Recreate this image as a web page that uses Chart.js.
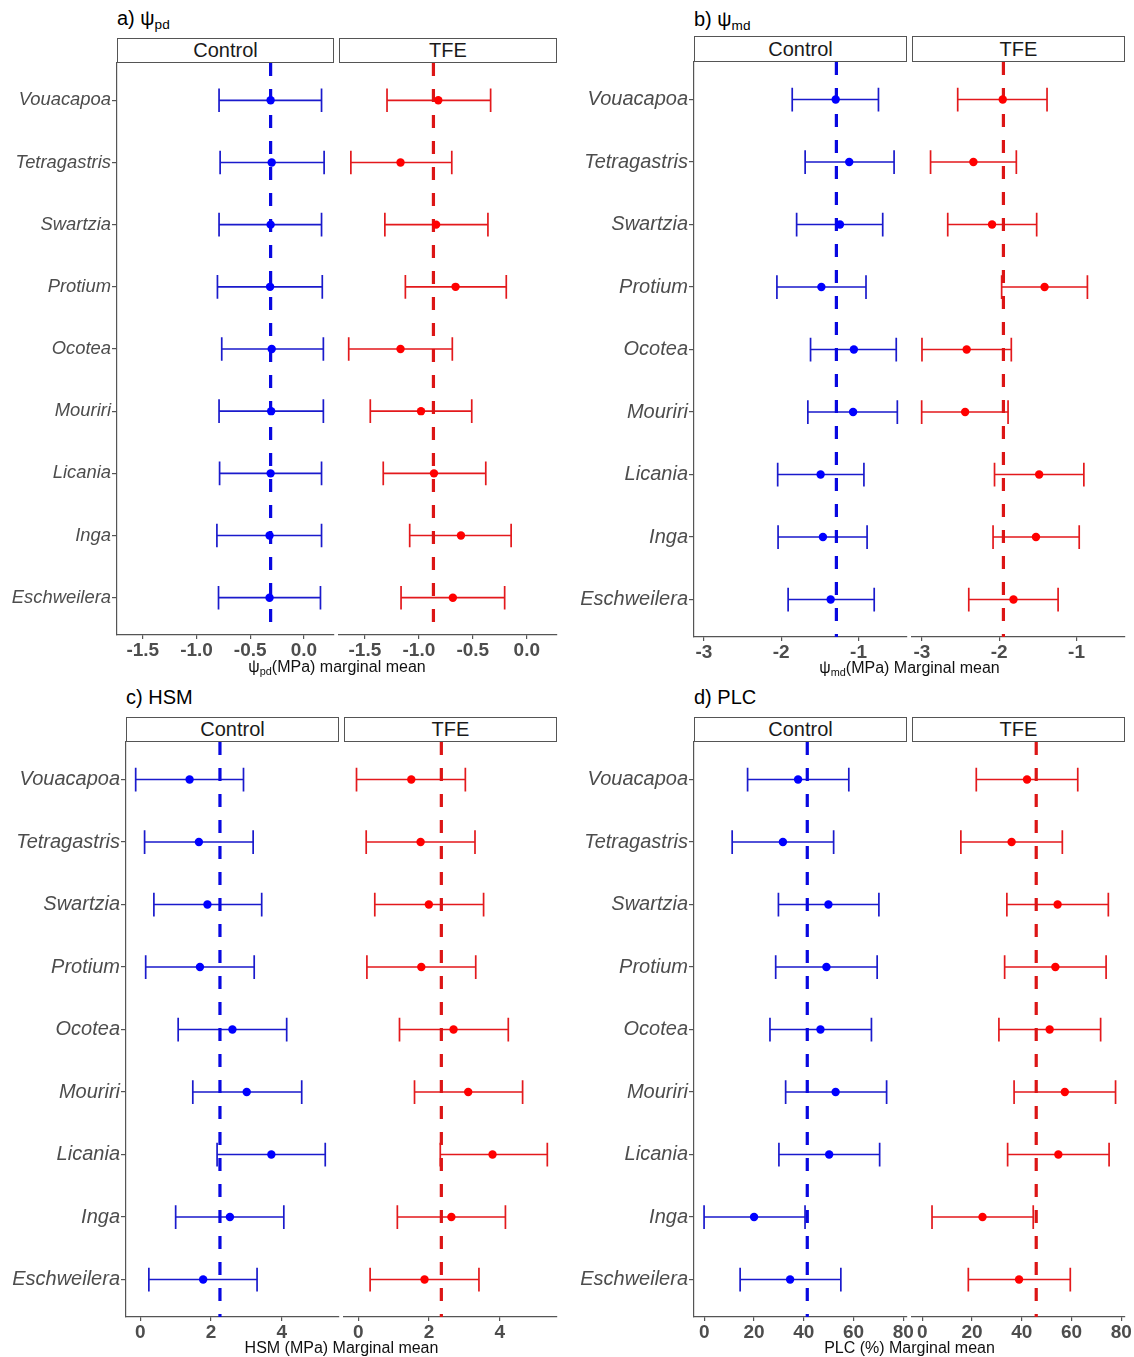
<!DOCTYPE html>
<html lang="en">
<head>
<meta charset="UTF-8">
<title>Marginal means by species</title>
<script src="https://cdn.jsdelivr.net/npm/chart.js"></script>
<style>
  body { margin: 0; background: #fff; font-family: 'Liberation Sans', Arial, sans-serif; }
  #page { position: relative; width: 1134px; height: 1357px; overflow: hidden; background: #fff; }
  #page canvas { position: absolute; }
  .strip { position: absolute; box-sizing: border-box; border: 1px solid #555; background: #fff;
           text-align: center; font-size: 20px; color: #1a1a1a; }
  .title { position: absolute; font-size: 20px; color: #000; white-space: nowrap; transform: translateY(-50%); }
  .xtitle { position: absolute; font-size: 16px; color: #111; white-space: nowrap; transform: translate(-50%, -50%); }
  sub { font-size: 68%; vertical-align: -0.3em; line-height: 0; }
</style>
</head>
<body>
<div id="page"></div>

<script>
// species, top to bottom
const species = ['Vouacapoa', 'Tetragastris', 'Swartzia', 'Protium', 'Ocotea', 'Mouriri', 'Licania', 'Inga', 'Eschweilera'];

// a) psi pd
const pdCtrlMean = [-0.31, -0.30, -0.31, -0.315, -0.30, -0.305, -0.31, -0.32, -0.32];
const pdCtrlLow  = [-0.79, -0.78, -0.79, -0.805, -0.765, -0.79, -0.785, -0.81, -0.795];
const pdCtrlHigh = [0.164, 0.188, 0.164, 0.171, 0.181, 0.181, 0.164, 0.164, 0.154];
const pdTfeMean  = [-0.82, -1.17, -0.84, -0.66, -1.17, -0.98, -0.86, -0.61, -0.685];
const pdTfeLow   = [-1.295, -1.63, -1.315, -1.125, -1.65, -1.45, -1.33, -1.085, -1.165];
const pdTfeHigh  = [-0.335, -0.695, -0.36, -0.19, -0.69, -0.51, -0.38, -0.145, -0.205];
const pdRef = [-0.31, -0.865];
const pdTicks = [-1.5, -1.0, -0.5, 0.0];

// b) psi md
const mdCtrlMean = [-1.295, -1.12, -1.24, -1.48, -1.06, -1.07, -1.49, -1.46, -1.36];
const mdCtrlLow  = [-1.857, -1.69, -1.80, -2.055, -1.62, -1.655, -2.045, -2.04, -1.91];
const mdCtrlHigh = [-0.742, -0.54, -0.687, -0.903, -0.512, -0.498, -0.93, -0.889, -0.797];
const mdTfeMean  = [-1.954, -2.333, -2.092, -1.413, -2.42, -2.44, -1.483, -1.524, -1.815];
const mdTfeLow   = [-2.536, -2.887, -2.665, -1.968, -2.998, -3.002, -2.06, -2.079, -2.393];
const mdTfeHigh  = [-1.381, -1.778, -1.515, -0.859, -1.843, -1.885, -0.905, -0.965, -1.238];
const mdRef = [-1.286, -1.945];
const mdTicks = [-3, -2, -1];

// c) HSM
const hsmCtrlMean = [1.394, 1.657, 1.899, 1.687, 2.606, 3.01, 3.707, 2.535, 1.778];
const hsmCtrlLow  = [-0.131, 0.121, 0.384, 0.152, 1.071, 1.485, 2.172, 1.0, 0.242];
const hsmCtrlHigh = [2.919, 3.192, 3.434, 3.222, 4.141, 4.566, 5.232, 4.06, 3.303];
const hsmTfeMean  = [1.499, 1.762, 1.995, 1.782, 2.694, 3.109, 3.797, 2.633, 1.873];
const hsmTfeLow   = [-0.051, 0.223, 0.466, 0.243, 1.165, 1.59, 2.319, 1.104, 0.334];
const hsmTfeHigh  = [3.028, 3.301, 3.544, 3.322, 4.243, 4.648, 5.347, 4.162, 3.413];
const hsmRef = [2.253, 2.349];
const hsmTicks = [0, 2, 4];

// d) PLC
const plcCtrlMean = [37.7, 31.6, 49.9, 49.1, 46.7, 52.8, 50.2, 20.0, 34.5];
const plcCtrlLow  = [17.4, 11.2, 29.8, 28.7, 26.4, 32.7, 30.0, -0.1, 14.4];
const plcCtrlHigh = [58.1, 52.0, 70.2, 69.5, 67.2, 73.3, 70.5, 40.5, 54.9];
const plcTfeMean  = [42.1, 35.9, 54.4, 53.5, 51.2, 57.3, 54.7, 24.2, 38.9];
const plcTfeLow   = [21.7, 15.5, 34.0, 33.1, 30.8, 36.9, 34.3, 3.9, 18.5];
const plcTfeHigh  = [62.5, 56.3, 74.8, 73.9, 71.7, 77.7, 75.1, 44.6, 59.5];
const plcRef = [41.4, 45.8];
const plcTicks = [0, 20, 40, 60, 80];

const FONT = "'Liberation Sans', Arial, sans-serif";
const ctrlColors = { point: '#0000ff', bar: '#1a1acc', ref: '#0808e0' };
const tfeColors  = { point: '#ff0000', bar: '#e3191c', ref: '#dc1515' };

const page = document.getElementById('page');

// error bars and dashed reference line, drawn through the chart's own scales
const errorBars = {
  id: 'errorBars',
  beforeDatasetsDraw(chart, args, o) {
    const { ctx, chartArea } = chart;
    const x = chart.scales.x, y = chart.scales.y;
    ctx.save();
    ctx.strokeStyle = o.colors.bar;
    ctx.lineWidth = 1.7;
    o.low.forEach((lo, i) => {
      const x0 = x.getPixelForValue(lo), x1 = x.getPixelForValue(o.high[i]);
      const yc = y.getPixelForValue(i);
      const h = Math.abs(y.getPixelForValue(i + 0.19) - yc);
      ctx.beginPath();
      ctx.moveTo(x0, yc); ctx.lineTo(x1, yc);
      ctx.moveTo(x0, yc - h); ctx.lineTo(x0, yc + h);
      ctx.moveTo(x1, yc - h); ctx.lineTo(x1, yc + h);
      ctx.stroke();
    });
    const xr = x.getPixelForValue(o.ref);
    ctx.strokeStyle = o.colors.ref;
    ctx.lineWidth = 3.2;
    ctx.setLineDash([13, 13]);
    ctx.beginPath();
    ctx.moveTo(xr, chartArea.top); ctx.lineTo(xr, chartArea.bottom);
    ctx.stroke();
    ctx.restore();
  }
};

function addDiv(cls, html, css) {
  const d = document.createElement('div');
  d.className = cls;
  d.innerHTML = html;
  Object.assign(d.style, css);
  page.appendChild(d);
  return d;
}

function facet(p, f) {
  const padL = f.showY ? 0 : 22, padR = 22, padT = 5, axisH = 32;
  const canvasLeft = f.showY ? p.panelX : f.left - padL;
  const w = f.right + padR - canvasLeft;
  const h = p.bottom - p.top + padT + axisH;
  const cv = document.createElement('canvas');
  cv.width = w; cv.height = h;
  cv.style.left = canvasLeft + 'px';
  cv.style.top = (p.top - padT) + 'px';
  cv.style.width = w + 'px'; cv.style.height = h + 'px';
  page.appendChild(cv);

  new Chart(cv, {
    type: 'scatter',
    data: {
      datasets: [{
        data: f.mean.map((m, i) => ({ x: m, y: i })),
        backgroundColor: f.colors.point,
        borderWidth: 0,
        pointRadius: 4.2,
        pointHoverRadius: 4.2
      }]
    },
    options: {
      responsive: false,
      animation: false,
      devicePixelRatio: 1,
      layout: { padding: { left: padL, right: padR, top: padT, bottom: 0 } },
      plugins: {
        legend: { display: false },
        tooltip: { enabled: false },
        errorBars: { low: f.low, high: f.high, ref: f.ref, colors: f.colors }
      },
      scales: {
        x: {
          type: 'linear',
          min: p.range[0], max: p.range[1],
          afterBuildTicks: s => { s.ticks = p.ticks.map(v => ({ value: v })); },
          afterFit: s => { s.height = axisH; s.paddingLeft = 0; s.paddingRight = 0; },
          ticks: {
            autoSkip: false, maxRotation: 0, minRotation: 0, padding: 0,
            color: '#4d4d4d',
            font: { family: FONT, size: 19, weight: 'bold' },
            callback: v => p.fmt(v)
          },
          grid: { drawOnChartArea: false, drawTicks: true, tickLength: 4, color: '#555', lineWidth: 1.2 },
          border: { display: true, color: '#555', width: 1.2 }
        },
        y: {
          type: 'linear',
          display: f.showY,
          reverse: true,
          min: -0.6, max: species.length - 0.4,
          afterBuildTicks: s => { s.ticks = species.map((_, i) => ({ value: i })); },
          afterFit: s => { s.width = f.showY ? f.left - p.panelX : 0; s.paddingTop = 0; s.paddingBottom = 0; },
          ticks: {
            autoSkip: false, padding: 1,
            color: '#4d4d4d',
            font: { family: FONT, size: p.labelSize, style: 'italic' },
            callback: v => species[v]
          },
          grid: { drawOnChartArea: false, drawTicks: true, tickLength: 5, color: '#555', lineWidth: 1.2 },
          border: { display: true, color: '#555', width: 1.2 }
        }
      }
    },
    plugins: [errorBars]
  });

  addDiv('strip', f.name, {
    left: f.left + 'px', top: p.stripTop + 'px',
    width: (f.right - f.left) + 'px', height: (p.top - p.stripTop) + 'px',
    lineHeight: (p.top - p.stripTop - 2) + 'px'
  });
}

const fmt1 = v => v.toFixed(1);
const fmt0 = v => String(v);

const panels = [
  { title: 'a) &psi;<sub>pd</sub>', xTitle: '&psi;<sub>pd</sub>(MPa) marginal mean',
    panelX: 0, stripTop: 38, top: 63, bottom: 635, titleY: 18, xTitleY: 667, labelSize: 18.4,
    range: [-1.74, 0.28], ticks: pdTicks, fmt: fmt1,
    facets: [
      { name: 'Control', left: 117, right: 334, showY: true, mean: pdCtrlMean, low: pdCtrlLow, high: pdCtrlHigh, ref: pdRef[0], colors: ctrlColors },
      { name: 'TFE', left: 339, right: 557, showY: false, mean: pdTfeMean, low: pdTfeLow, high: pdTfeHigh, ref: pdRef[1], colors: tfeColors }
    ] },
  { title: 'b) &psi;<sub>md</sub>', xTitle: '&psi;<sub>md</sub>(MPa) Marginal mean',
    panelX: 570, stripTop: 36, top: 62, bottom: 637, titleY: 19, xTitleY: 668, labelSize: 20,
    range: [-3.127, -0.373], ticks: mdTicks, fmt: fmt0,
    facets: [
      { name: 'Control', left: 694, right: 907, showY: true, mean: mdCtrlMean, low: mdCtrlLow, high: mdCtrlHigh, ref: mdRef[0], colors: ctrlColors },
      { name: 'TFE', left: 912, right: 1125, showY: false, mean: mdTfeMean, low: mdTfeLow, high: mdTfeHigh, ref: mdRef[1], colors: tfeColors }
    ] },
  { title: 'c) HSM', xTitle: 'HSM (MPa) Marginal mean',
    panelX: 0, stripTop: 717, top: 742, bottom: 1317, titleY: 697, xTitleY: 1348, labelSize: 20,
    range: [-0.405, 5.621], ticks: hsmTicks, fmt: fmt0,
    facets: [
      { name: 'Control', left: 126, right: 339, showY: true, mean: hsmCtrlMean, low: hsmCtrlLow, high: hsmCtrlHigh, ref: hsmRef[0], colors: ctrlColors },
      { name: 'TFE', left: 344, right: 557, showY: false, mean: hsmTfeMean, low: hsmTfeLow, high: hsmTfeHigh, ref: hsmRef[1], colors: tfeColors }
    ] },
  { title: 'd) PLC', xTitle: 'PLC (%) Marginal mean',
    panelX: 570, stripTop: 717, top: 742, bottom: 1317, titleY: 697, xTitleY: 1348, labelSize: 20,
    range: [-4.15, 81.5], ticks: plcTicks, fmt: fmt0,
    facets: [
      { name: 'Control', left: 694, right: 907, showY: true, mean: plcCtrlMean, low: plcCtrlLow, high: plcCtrlHigh, ref: plcRef[0], colors: ctrlColors },
      { name: 'TFE', left: 912, right: 1125, showY: false, mean: plcTfeMean, low: plcTfeLow, high: plcTfeHigh, ref: plcRef[1], colors: tfeColors }
    ] }
];

panels.forEach(p => {
  p.facets.forEach(f => facet(p, f));
  addDiv('title', p.title, { left: p.facets[0].left + 'px', top: p.titleY + 'px' });
  const cx = (p.facets[0].left + p.facets[1].right) / 2;
  addDiv('xtitle', p.xTitle, { left: cx + 'px', top: p.xTitleY + 'px' });
});
</script>
</body>
</html>
